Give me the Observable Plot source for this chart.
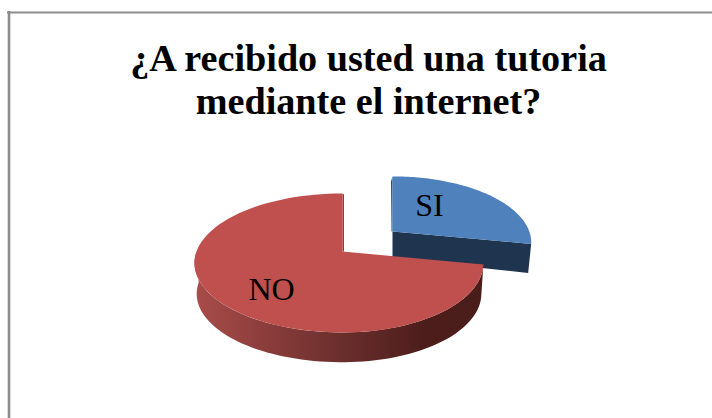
<!DOCTYPE html>
<html><head><meta charset="utf-8">
<script src="https://cdn.jsdelivr.net/npm/d3@7"></script>
<script src="https://cdn.jsdelivr.net/npm/@observablehq/plot@0.6"></script>
<style>html,body{margin:0;padding:0;background:#fff}svg{display:block}</style>
</head><body><div id="chart"></div>
<script>
const categories = ["SI", "NO"];
const values = [28, 72];
const titleLines = ["¿A recibido usted una tutoria", "mediante el internet?"];

const k = 0.165, Ry = 67.6, depth = 29;
// centre x, centre y, scale, radius to the left, radius to the right
const centers = {SI: [392, 231, 0.95, 146, 144], NO: [342, 251, 1, 146, 139]};
function proj(c, th, s = 1, dy = 0) {
  const u = Math.sin(th), v = -Math.cos(th), w = 1 - k * v;
  const Rx = u < 0 ? c[3] : c[4];
  return {x: c[0] + s * c[2] * Rx * u / w, y: c[1] + dy + s * c[2] * Ry * v / w};
}
function arc(c, a, b, s, dy) {
  const n = 80;
  return d3.range(n + 1).map(i => proj(c, a + (b - a) * i / n, s, dy));
}
const arcs = d3.pie().sort(null)(values);
const sector = name => {
  const i = categories.indexOf(name), c = centers[name], a = arcs[i];
  return [{x: c[0], y: c[1]}, ...arc(c, a.startAngle, a.endAngle, 1, 0), {x: c[0], y: c[1]}];
};
const cNO = centers.NO, aNO = arcs[1];
const cSI = centers.SI, aSI = arcs[0];
// NO outer wall: visible front part of the rim
const wallNO = [...arc(cNO, aNO.startAngle, 1.5 * Math.PI, 1, 0),
                ...arc(cNO, aNO.startAngle, 1.5 * Math.PI, 0.985, depth + 2).reverse()];
// SI cut wall: apex to the outer corner
const apexSI = {x: cSI[0], y: cSI[1]};
const cornerSI = proj(cSI, aSI.endAngle);
const wallSI = [apexSI, cornerSI,
  {x: cornerSI.x - 3, y: cornerSI.y + depth},
  {x: apexSI.x, y: apexSI.y + depth - 2}];
// thin slivers of the back cut walls
const sliverNO = [{x: cNO[0], y: cNO[1]}, proj(cNO, aNO.endAngle), {x: cNO[0] + 1.5, y: cNO[1] - 57}, {x: cNO[0] + 1.5, y: cNO[1]}];
const sliverSI = [apexSI, proj(cSI, 0), {x: cSI[0] - 1.5, y: cSI[1] - 50}, {x: apexSI.x - 1, y: apexSI.y}];

const poly = (pts, fill) => Plot.line(pts, {x: "x", y: "y", fill, stroke: "none"});
const defs = () => {
  const s = d3.create("svg:defs");
  const g = s.append("linearGradient").attr("id", "wall").attr("x1", 0).attr("x2", 1).attr("y1", 0).attr("y2", 0);
  [[0, "#a84d4a"], [0.25, "#8a3d3b"], [0.55, "#652c2a"], [0.8, "#4c1d1b"], [1, "#4a1c1a"]].forEach(([o, col]) =>
    g.append("stop").attr("offset", o).attr("stop-color", col));
  return s.node();
};

const chart = Plot.plot({
  width: 712, height: 418, margin: 0,
  style: {background: "#fff"},
  x: {domain: [0, 712], range: [0, 712], axis: null},
  y: {domain: [0, 418], range: [0, 418], axis: null},
  marks: [
    defs,
    Plot.ruleY([12], {x1: 7, x2: 712, stroke: "#8c8c8c", strokeWidth: 2.2}),
    Plot.ruleX([8.5], {y1: 11, y2: 418, stroke: "#8c8c8c", strokeWidth: 2.6}),
    poly(sliverNO, "#8a3d3b"),
    poly(sliverSI, "#2c4a72"),
    poly(wallSI, "#1f344f"),
    poly(sector("SI"), "#4f81bd"),
    poly(wallNO, "url(#wall)"),
    poly(sector("NO"), "#c0504d"),
    Plot.text(titleLines, {x: 368, y: (d, i) => 58 + i * 43, text: d => d, fontFamily: "Liberation Serif", fontWeight: "bold", fontSize: 38.2, fill: "#000"}),
    Plot.text(categories, {x: d => ({SI: 429, NO: 271})[d], y: d => ({SI: 205, NO: 289})[d], text: d => d, fontFamily: "Liberation Serif", fontSize: 32, fill: "#000"})
  ]
});
document.getElementById("chart").append(chart);
</script></body></html>
